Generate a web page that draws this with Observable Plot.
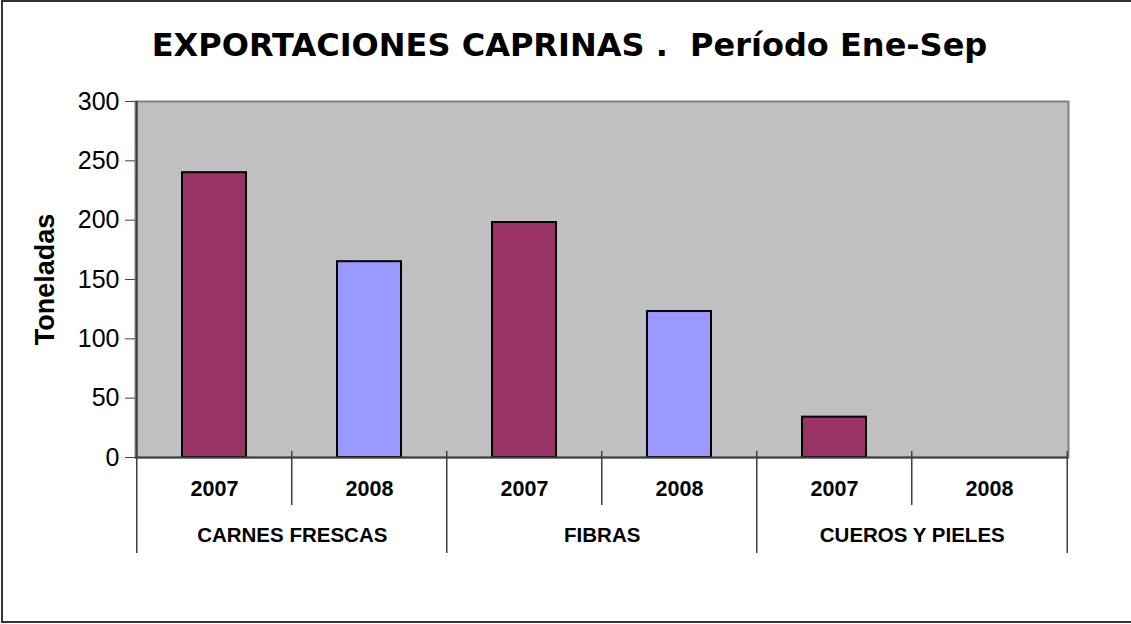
<!DOCTYPE html>
<html><head><meta charset="utf-8">
<script src="https://cdn.jsdelivr.net/npm/d3@7"></script>
<script src="https://cdn.jsdelivr.net/npm/@observablehq/plot@0.6"></script>
<style>
body{margin:0;background:#fff;}
#wrap{position:relative;width:1131px;height:624px;overflow:hidden;}
#border{position:absolute;left:1px;top:0;width:1200px;height:623px;border:2px solid #333;box-sizing:border-box;}
#title{position:absolute;top:25px;left:4px;width:1131px;text-align:center;font:bold 32px "DejaVu Sans",Verdana,sans-serif;line-height:40px;white-space:pre;color:#000;}
#chart{position:absolute;left:0;top:0;}
</style></head>
<body>
<div id="wrap"><div id="border"></div><div id="title"></div><div id="chart"></div></div>
<script>
const title = "EXPORTACIONES CAPRINAS .  Período Ene-Sep";
const yLabel = "Toneladas";
const categories = ["CARNES FRESCAS", "FIBRAS", "CUEROS Y PIELES"];
const years = ["2007", "2008"];
const values2007 = [240, 198, 34];
const values2008 = [165, 123, 0];
const yTicks = [0, 50, 100, 150, 200, 250, 300];

const rows = categories.flatMap((c, i) => [
  {cat: c, year: years[0], key: c + "|" + years[0], value: values2007[i]},
  {cat: c, year: years[1], key: c + "|" + years[1], value: values2008[i]}
]);

document.getElementById("title").textContent = title;

const W = 1131, H = 624, mL = 135, mR = 63, mT = 101, mB = 167;
const step = (W - mL - mR) / rows.length;
const axisColor = "#404040";

const chart = Plot.plot({
  width: W, height: H,
  marginLeft: mL, marginRight: mR, marginTop: mT, marginBottom: mB,
  style: {fontFamily: "'Liberation Sans', Arial, sans-serif", background: "transparent", overflow: "visible", color: "#000"},
  x: {type: "band", domain: rows.map(d => d.key), paddingInner: 0.59, paddingOuter: 0.295, axis: null},
  y: {domain: [0, 300], ticks: yTicks, label: null, axis: null},
  color: {domain: years, range: ["#993366", "#9999FF"]},
  marks: [
    Plot.frame({fill: "#C0C0C0", stroke: "#808080", strokeWidth: 2}),
    Plot.axisY({ticks: yTicks, tickSize: 10, tickPadding: 6, fontSize: 25, stroke: axisColor, label: null, tickFormat: d => String(d)}),
    Plot.text([yLabel], {frameAnchor: "left", textAnchor: "middle", dx: -90, rotate: -90, fontSize: 27, fontWeight: "bold", text: d => d}),
    Plot.barY(rows.filter(d => d.value > 0), {x: "key", y: "value", fill: "year", stroke: "black", strokeWidth: 2}),
    Plot.ruleY([0], {stroke: axisColor, strokeWidth: 2}),
    Plot.ruleX(rows.slice(0, 1), {x: "key", dx: -step / 2, stroke: axisColor, strokeWidth: 2}),
    Plot.ruleX(rows.filter(d => d.year === years[1]), {x: "key", dx: -step / 2, insetTop: 350, insetBottom: -48, stroke: axisColor, strokeWidth: 1.5}),
    Plot.ruleX(rows.filter(d => d.year === years[0]), {x: "key", dx: -step / 2, insetTop: 350, insetBottom: -96, stroke: axisColor, strokeWidth: 1.5}),
    Plot.ruleX(rows.slice(-1), {x: "key", dx: step / 2, insetTop: 350, insetBottom: -96, stroke: axisColor, strokeWidth: 1.5}),
    Plot.text(rows, {x: "key", text: "year", frameAnchor: "bottom", dy: 38, fontSize: 21.5, fontWeight: "bold"}),
    Plot.text(rows.filter(d => d.year === years[0]), {x: "key", text: "cat", frameAnchor: "bottom", dx: step / 2, dy: 84, fontSize: 20.5, fontWeight: "bold"})
  ]
});
document.getElementById("chart").appendChild(chart);
</script>
</body></html>
